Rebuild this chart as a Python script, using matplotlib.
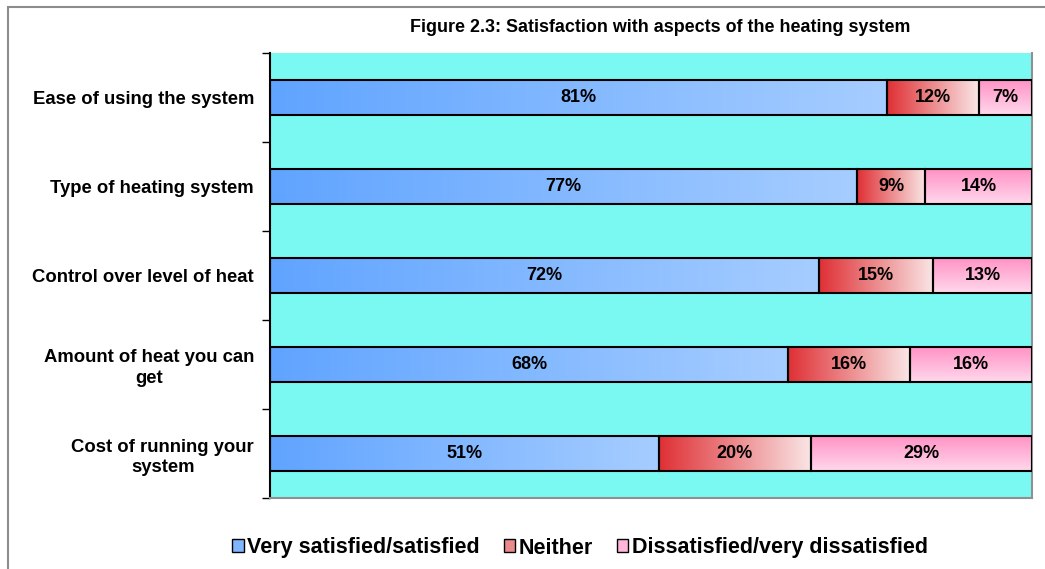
import matplotlib.pyplot as plt
import numpy as np
from matplotlib.patches import Rectangle
from matplotlib.colors import LinearSegmentedColormap

plt.rcParams['font.family'] = ['Liberation Sans', 'DejaVu Sans']

categories = ["Ease of using the system", "Type of heating system",
              "Control over level of heat", "Amount of heat you can\nget",
              "Cost of running your\nsystem"]
satisfied = [81, 77, 72, 68, 51]
neither = [12, 9, 15, 16, 20]
dissatisfied = [7, 14, 13, 16, 29]
series_names = ["Very satisfied/satisfied", "Neither", "Dissatisfied/very dissatisfied"]

W, H = 1045, 569
fig = plt.figure(figsize=(W / 100, H / 100), dpi=100)
fig.patches.append(Rectangle((8 / W, -0.1), 1.2, 1 - 7 / H + 0.1, transform=fig.transFigure,
                             fill=False, edgecolor='#8c8c8c', lw=1.5))

ax = fig.add_axes([270 / W, 71 / H, 762 / W, 445 / H])
ax.set_facecolor('#7af9f3')

cm_blue = LinearSegmentedColormap.from_list('b', ['#60a4ff', '#a6cdff'])
cm_red = LinearSegmentedColormap.from_list('r', ['#df3035', '#fae6e6'])
cm_pink = LinearSegmentedColormap.from_list('p', ['#ff90c4', '#ffd9ec'])
grad = np.linspace(0, 1, 256)

bh = 0.4
for i in range(len(categories)):
    left = 0
    for vals, cm, vert in [(satisfied, cm_blue, False), (neither, cm_red, False),
                           (dissatisfied, cm_pink, True)]:
        v = vals[i]
        img = grad.reshape(-1, 1) if vert else grad.reshape(1, -1)
        ax.imshow(img, cmap=cm, aspect='auto', origin='upper' if vert else 'lower',
                  extent=(left, left + v, i + bh / 2, i - bh / 2), zorder=2)
        ax.barh(i, v, left=left, height=bh, facecolor='none', edgecolor='black', lw=1.5, zorder=3)
        ax.text(left + v / 2, i, f"{v}%", ha='center', va='center', fontsize=13,
                fontweight='bold', zorder=4)
        left += v
ax.set_xlim(0, 100)
ax.set_ylim(len(categories) - 0.5, -0.5)

ax.set_yticks(np.arange(len(categories) + 1) - 0.5)
ax.set_yticklabels([])
ax.set_yticks(range(len(categories)), minor=True)
ax.set_yticklabels(categories, minor=True, fontsize=13.3, fontweight='bold')
for lab in ax.get_yticklabels(minor=True):
    lab.set_multialignment('center')
    lab.set_linespacing(1.3)
ax.tick_params(axis='y', which='minor', length=0, pad=11.5)
ax.tick_params(axis='y', which='major', length=6, width=1)
ax.set_xticks([])
ax.spines['left'].set_linewidth(1.5)
for s in ['right', 'bottom']:
    ax.spines[s].set_color('#909090')
    ax.spines[s].set_linewidth(1.5)
ax.spines['top'].set_visible(False)

fig.text(660 / W, 1 - 28 / H, "Figure 2.3: Satisfaction with aspects of the heating system",
         ha='center', va='center', fontsize=12.9, fontweight='bold')

handles = [Rectangle((0, 0), 1, 1, facecolor=c, edgecolor='black', lw=1)
           for c in ['#7fb6ff', '#ea8a8c', '#ffb6d8']]
fig.legend(handles, series_names, loc='center', bbox_to_anchor=(580 / W, 1 - 548 / H),
           ncol=3, frameon=False, prop={'weight': 'bold', 'size': 15.5},
           handlelength=0.55, handleheight=0.55, handletextpad=0.15, columnspacing=1.1)

fig.savefig('out.png', dpi=100)
